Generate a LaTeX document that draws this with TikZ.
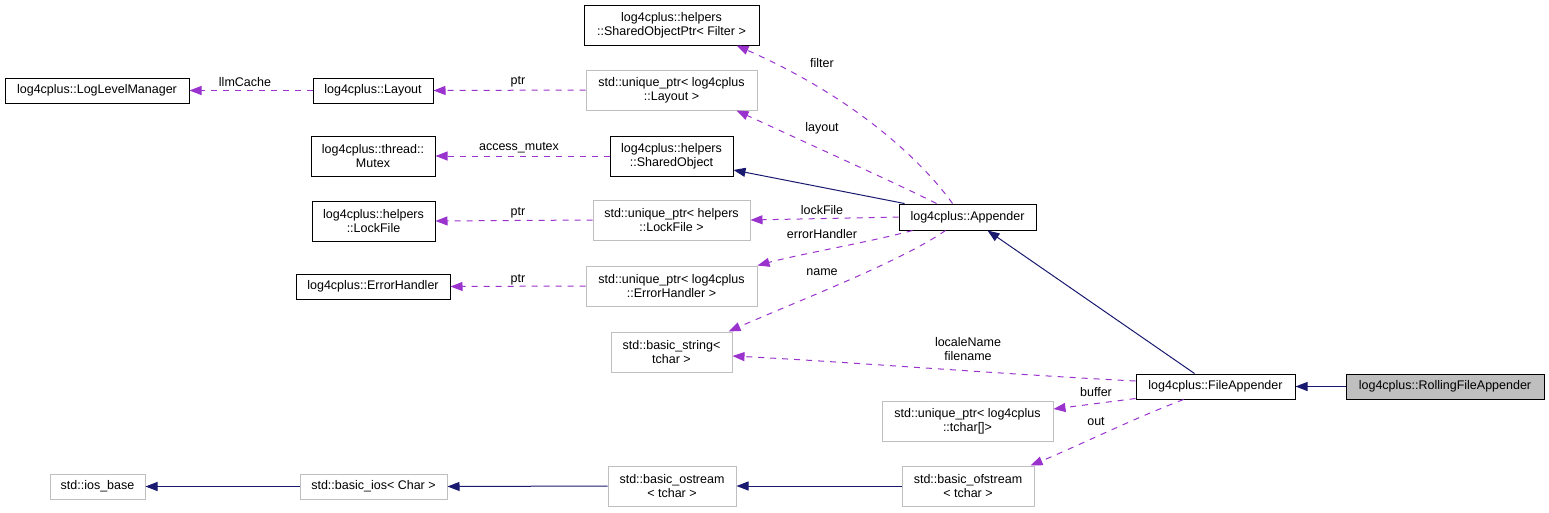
\documentclass[tikz,border=0pt]{standalone}
\usepackage{fontspec}
\setmainfont{Liberation Sans}
\usetikzlibrary{arrows.meta,calc}
\definecolor{dep}{HTML}{9A32CD}
\definecolor{inh}{HTML}{191970}
\definecolor{gbox}{HTML}{BFBFBF}
\begin{document}
\begin{tikzpicture}[x=1pt,y=-1pt,
  every node/.style={font=\fontsize{12.5}{14}\selectfont},
  cls/.style={draw=black,line width=1pt,inner sep=0pt,align=center,fill=white},
  ext/.style={draw=gbox,line width=1pt,inner sep=0pt,align=center,fill=white},
  cur/.style={draw=black,line width=1pt,inner sep=0pt,align=center,fill=gbox},
  depl/.style={draw=dep,line width=1pt,dash pattern=on 6pt off 6pt,-{Triangle[length=12pt,width=9pt]}},
  inhl/.style={draw=inh,line width=1pt,-{Triangle[length=12pt,width=9pt]}},
  lbl/.style={inner sep=0pt}]
\useasboundingbox (0,0) rectangle (1549,512);
% boxes
\node[cls,minimum width=184pt,minimum height=25pt] (llm) at (97,90.5) {log4cplus::LogLevelManager};
\node[cls,minimum width=120pt,minimum height=25pt] (lay) at (373,90.5) {log4cplus::Layout};
\node[cls,minimum width=124pt,minimum height=40pt] (mtx) at (373,156) {log4cplus::thread::\\Mutex};
\node[cls,minimum width=123pt,minimum height=40pt] (lkf) at (373.5,221) {log4cplus::helpers\\::LockFile};
\node[cls,minimum width=154pt,minimum height=25pt] (erh) at (373,286.5) {log4cplus::ErrorHandler};
\node[ext,minimum width=95pt,minimum height=25pt] (iob) at (97.5,486.5) {std::ios\_base};
\node[ext,minimum width=147pt,minimum height=25pt] (bio) at (373.5,486.5) {std::basic\_ios< Char >};
\node[cls,minimum width=175pt,minimum height=40pt] (sop) at (671.5,25) {log4cplus::helpers\\::SharedObjectPtr< Filter >};
\node[ext,minimum width=171pt,minimum height=40pt] (upl) at (671.5,90) {std::unique\_ptr< log4cplus\\::Layout >};
\node[cls,minimum width=123pt,minimum height=40pt] (sob) at (671.5,156) {log4cplus::helpers\\::SharedObject};
\node[ext,minimum width=157pt,minimum height=40pt] (ulf) at (671.5,220) {std::unique\_ptr< helpers\\::LockFile >};
\node[ext,minimum width=171pt,minimum height=40pt] (ueh) at (671.5,286) {std::unique\_ptr< log4cplus\\::ErrorHandler >};
\node[ext,minimum width=121pt,minimum height=40pt] (bst) at (671.5,352) {std::basic\_string<\\tchar >};
\node[ext,minimum width=128pt,minimum height=40pt] (bos) at (672,486) {std::basic\_ostream\\< tchar >};
\node[cls,minimum width=137pt,minimum height=26pt] (app) at (967.5,217) {log4cplus::Appender};
\node[ext,minimum width=171pt,minimum height=40pt] (utc) at (967.5,421) {std::unique\_ptr< log4cplus\\::tchar[]>};
\node[ext,minimum width=132pt,minimum height=40pt] (bof) at (968,486) {std::basic\_ofstream\\< tchar >};
\node[cls,minimum width=159pt,minimum height=25pt] (fap) at (1215.5,386.5) {log4cplus::FileAppender};
\node[cur,minimum width=198pt,minimum height=25pt] (rfa) at (1445,386.5) {log4cplus::RollingFileAppender};
% straight dependency edges
\draw[depl] (lay.west) -- (llm.east);
\draw[depl] (upl.west) -- (lay.east);
\draw[depl] (sob.west) -- (mtx.east);
\draw[depl] (ulf.west) -- (lkf.east);
\draw[depl] (ueh.west) -- (erh.east);
% appender dependencies
\draw[depl] ($(app.north west)+(54,0)$) .. controls (925,165) and (860,100) .. ($(sop.south)+(65,0)$);
\draw[depl] ($(app.north west)+(38,0)$) .. controls (900,185) and (800,140) .. ($(upl.south)+(65,0)$);
\draw[depl] (app.west) -- (ulf.east);
\draw[depl] ($(app.south west)+(14,0)$) .. controls (870,242) and (800,254) .. (ueh.north east);
\draw[depl] ($(app.south west)+(47,0)$) .. controls (900,262) and (800,300) .. ($(bst.north east)+(-4,0)$);
\draw[inhl] ($(app.north west)+(6,0)$) -- ($(sob.east)+(0,14)$);
% file appender
\draw[depl] ($(fap.west)+(0,-5.5)$) .. controls (1000,374) and (850,362) .. ($(bst.east)+(0,4)$);
\draw[depl] ($(fap.south west)+(0,-1)$) -- ($(utc.east)+(0,-12)$);
\draw[depl] ($(fap.south west)+(48,0)$) .. controls (1130,420) and (1080,445) .. ($(bof.north east)+(-4,0)$);
\draw[inhl] ($(fap.north west)+(59,0)$) -- ($(app.south west)+(89,0)$);
\draw[inhl] (rfa.west) -- (fap.east);
% stream hierarchy
\draw[inhl] (bio.west) -- (iob.east);
\draw[inhl] (bos.west) -- (bio.east);
\draw[inhl] (bof.west) -- (bos.east);
% labels
\node[lbl] (t1) at (245,82) {llmCache};
\node[lbl] (t2) at (518,82) {ptr};
\node[lbl] (t3) at (519,148) {access\_mutex};
\node[lbl] (t4) at (518,213) {ptr};
\node[lbl] (t5) at (518,280) {ptr};
\node[lbl] (t6) at (822,63) {filter};
\node[lbl] (t7) at (822,128) {layout};
\node[lbl] (t8) at (822,210) {lockFile};
\node[lbl] (t9) at (822,234) {errorHandler};
\node[lbl] (t10) at (822,272) {name};
\node[lbl,align=center] (t11) at (968,349) {localeName\\filename};
\node[lbl] (t12) at (1096,392) {buffer};
\node[lbl] (t13) at (1096,422) {out};
\end{tikzpicture}
\end{document}
